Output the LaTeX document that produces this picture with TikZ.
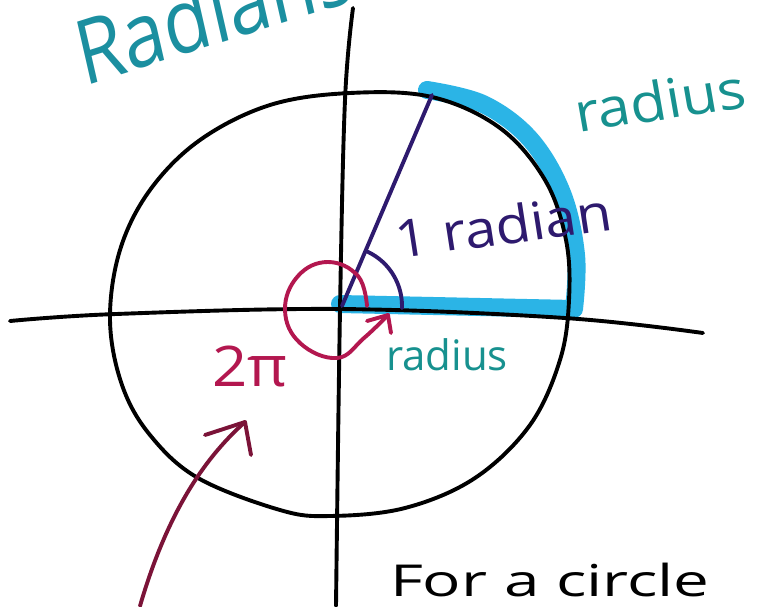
\documentclass[tikz,border=0pt]{standalone}
\usepackage{fontspec}
\setmainfont{Open Sans}
\definecolor{tealA}{HTML}{17918F}
\definecolor{tealB}{HTML}{1B8FA0}
\definecolor{bandblue}{HTML}{2BB4E6}
\definecolor{purp}{HTML}{2E1A6E}
\definecolor{crim}{HTML}{B3174F}
\definecolor{maroon}{HTML}{7B1338}
\begin{document}
\begin{tikzpicture}[x=1pt,y=-1pt,
  every node/.style={inner sep=0pt, outer sep=0pt},
  ink/.style={line width=3.9pt, line cap=round, line join=round},
  band/.style={line width=18pt, bandblue, line cap=round, line join=round},
  fs/.style={font=\fontsize{#1}{#1}\selectfont}]
\useasboundingbox[fill=white] (0,0) rectangle (763,606);

% blue highlight
\draw[band] plot[smooth, tension=0.6] coordinates {(427,90) (483,104) (530,139) (562,193) (576,255) (574,309)} -- (340,304);

% axes
\draw[ink] plot[smooth, tension=0.6] coordinates {(10,321) (116,314) (340,309) (565,318) (703,333)};
\draw[ink] plot[smooth, tension=0.6] coordinates {(353,8) (345,100) (340,310) (336,606)};

% circle
\draw[ink] plot[smooth cycle, tension=0.6] coordinates {(350,93) (432,97) (500,128) (545,180) (566,240) (569,300) (560,360) (530,425) (475,478) (405,508) (330,516) (280,510) (198,478) (150,435) (122,385) (110,320) (120,250) (150,190) (200,140) (270,105)};

% radius line and angle
\coordinate (O) at (342,306);
\coordinate (P) at (432,95);
\draw[ink, purp] (O) -- (P);
\draw[ink, purp] plot[domain=66:-2, samples=30] ({342+60*cos(\x)},{306-60*sin(\x)});

% 2pi spiral arrow
\coordinate (st) at (367,306);
\coordinate (tip) at (388,315);
\coordinate (h1) at (367,321);
\coordinate (h2) at (391,333);
\draw[ink, crim] plot[smooth, tension=0.7] coordinates {(st) (358,276) (328,262) (298,276) (285,310) (300,343) (337,358) (364,338) (tip)};
\draw[ink, crim] (h1) -- (tip) -- (h2);

% lower pointer arrow
\coordinate (a0) at (140,606);
\coordinate (at) at (245,422);
\coordinate (a1) at (205,435);
\coordinate (a2) at (251,455);
\draw[ink, maroon] (a0) .. controls (165,520) and (200,462) .. (at);
\draw[ink, maroon] (a1) -- (at) -- (a2);

% texts
\node[tealB, fs=90, xscale=0.85, rotate=15, anchor=base west] (title) at (84,86) {Radians};
\node[tealA, fs=54, xscale=1.1, rotate=9, anchor=base west] (rad1) at (578,132) {radius};
\node[tealA, fs=42, anchor=base west] (rad2) at (386,370) {radius};
\node[purp, fs=52, xscale=1.1, rotate=8, anchor=base west] (onerad) at (398,258) {1 radian};
\node[crim, fs=56, xscale=1.1, anchor=base west] (twopi) at (212,386) {2π};
\node[black, fs=44, xscale=1.45, anchor=base west] (forc) at (390,596) {For a circle};
\end{tikzpicture}
\end{document}
